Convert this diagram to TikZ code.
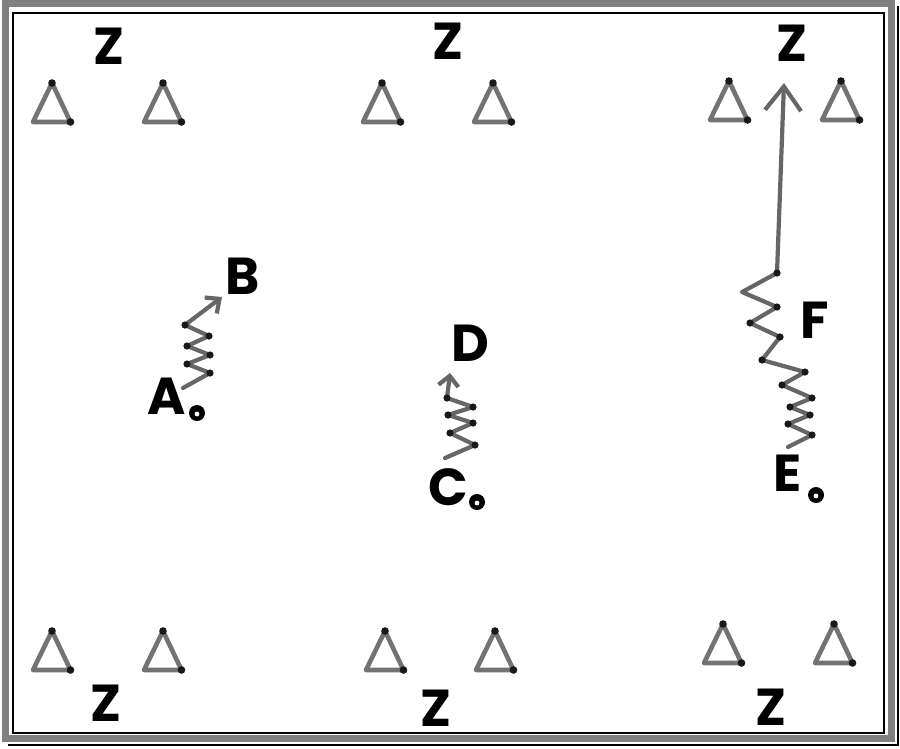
\documentclass[tikz,border=0pt]{standalone}
\usepackage{fontspec}
\setmainfont{Poppins}
\usetikzlibrary{arrows.meta}
\begin{document}
\begin{tikzpicture}[x=1pt,y=-1pt,
  lbl/.style={font=\fontsize{52}{52}\selectfont\bfseries, inner sep=0pt, text=black},
  zz/.style={draw=black!60, line width=4.2pt, line join=round, line cap=round},
  tri/.style={draw=black!55, line width=4.6pt, line join=round},
  vdot/.style={fill=black!90},
  playermark/.style={fill=black},
]
\useasboundingbox (0,0) rectangle (900,748);
% frame
\draw[black!50, line width=7pt] (5.5,3) rectangle (891.5,738.5);
\draw[black, line width=2pt] (13,13) rectangle (884,733);
\draw[black, line width=1.6pt] (898,6) -- (898,745) -- (8,745);

% triangles
\foreach \x/\y in {52/83,163/83,382/83,493/83,729/81,841/81,52/631,163/631,385/631,495/631,723/624,834/624}{
  \draw[tri] (\x,\y) -- (\x+18.5,\y+39) -- (\x-19,\y+39) -- cycle;
  \fill[vdot] (\x,\y) circle (3.8pt);
  \fill[vdot] (\x+18.5,\y+39) circle (3.8pt);
}

% labels
\node[lbl] (z1) at (109,46) {Z};
\node[lbl] (z2) at (448,41) {Z};
\node[lbl] (z3) at (792,43) {Z};
\node[lbl] (z4) at (106,703) {Z};
\node[lbl] (z5) at (436,708) {Z};
\node[lbl] (z6) at (771,707) {Z};
\node[lbl] (A) at (167,396) {A};
\node[lbl] (B) at (243,276) {B};
\node[lbl] (C) at (448,487) {C};
\node[lbl] (D) at (470,343) {D};
\node[lbl] (E) at (788,473) {E};
\node[lbl] (F) at (815,320) {F};

% player markers
\foreach \x/\y in {197/413,477/502,816/495}{
  \fill[playermark] (\x,\y) circle (8pt);
  \fill[white] (\x,\y+1) circle (2.4pt);
}

% run A -> B
\coordinate (ab0) at (183,388);
\coordinate (ab1) at (222,297);
\draw[zz, -{Straight Barb[length=11pt,width=20pt]}] (ab0) -- (210,373) -- (187,364) -- (210,355) -- (187,346) -- (209,336) -- (185,325) -- (ab1);
\foreach \p in {(210,373),(187,364),(210,355),(187,346),(209,336),(185,325)} \fill[vdot] \p circle (3.6pt);

% run C -> D
\coordinate (cd0) at (445,458);
\coordinate (cd1) at (450,373);
\draw[zz, -{Straight Barb[length=10pt,width=20pt]}] (cd0) -- (475,445) -- (450,433) -- (473,423) -- (448,415) -- (473,407) -- (447,398) -- (cd1);
\foreach \p in {(475,445),(450,433),(473,423),(448,415),(473,407),(447,398)} \fill[vdot] \p circle (3.6pt);

% run E -> F -> Z
\coordinate (ef0) at (788,447);
\coordinate (ef1) at (784,83);
\draw[zz, -{Straight Barb[length=24pt,width=36pt]}] (ef0) -- (812,435) -- (788,424) -- (810,415) -- (790,407) -- (812,398) -- (782,385) -- (805,372) -- (762,360) -- (780,337) -- (750,323) -- (777,307) -- (742,292) -- (777,273) -- (ef1);
\foreach \p in {(812,435),(788,424),(810,415),(790,407),(812,398),(782,385),(805,372),(762,360),(780,337),(750,323),(777,307),(777,273)} \fill[vdot] \p circle (3.6pt);
\end{tikzpicture}
\end{document}
